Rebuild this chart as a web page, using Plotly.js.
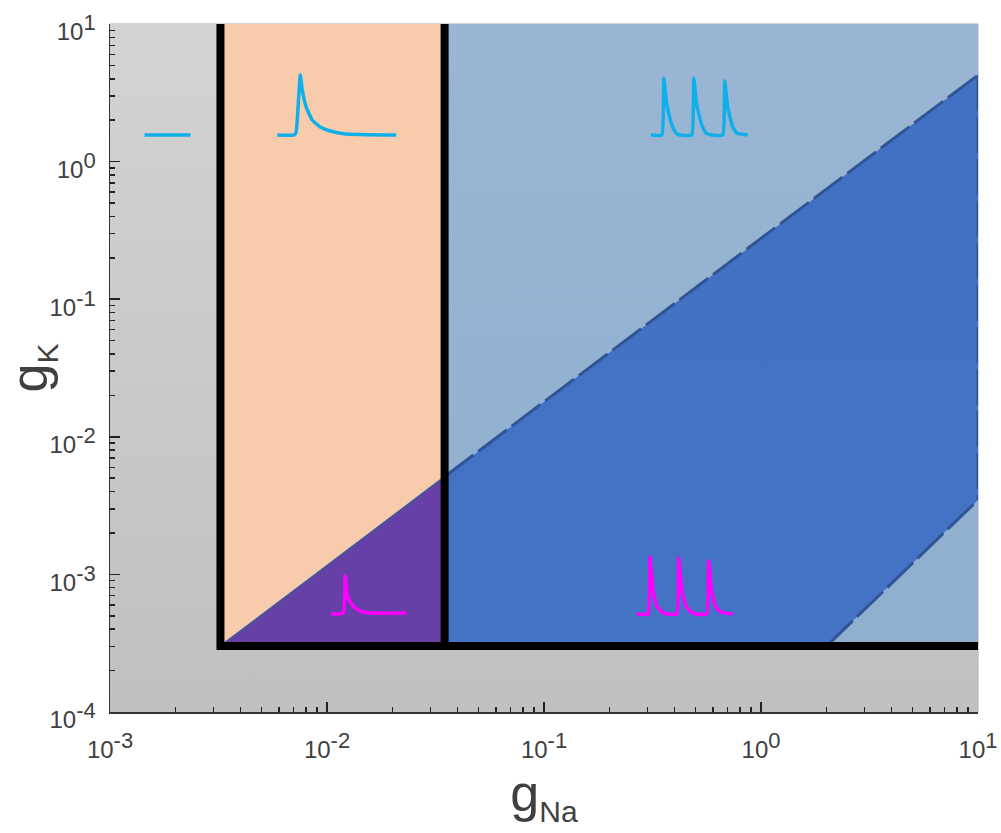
<!DOCTYPE html>
<html><head><meta charset="utf-8">
<script src="https://cdn.plot.ly/plotly-3.0.1.min.js"></script>
<style>html,body{margin:0;padding:0;background:#fff}</style></head>
<body><div id="chart" style="width:1001px;height:833px"></div>
<script>
// all coordinates below are log10(gNa), log10(gK)
const xDecades = [-3,-2,-1,0,1];
const yDecades = [-4,-3,-2,-1,0,1];
const gNaLow = -2.491, gNaHigh = -1.458, gKLow = -3.52;
const xLo = -3, xHi = 1, yLo = -4, yHi = 1;

const upperEdgeX = [-2.491,-1.458,1];
const upperEdgeY = [-3.52,-2.29,0.629];
const lowerEdgeX = [0.303,1];
const lowerEdgeY = [-3.52,-2.459];

const restX = [-2.841,-2.629];
const restY = [0.193,0.193];
const cyanOneX = [-2.229,-2.151,-2.142,-2.123,-2.114,-2.096,-2.068,-2.031,-1.985,-1.916,-1.681];
const cyanOneY = [0.193,0.193,0.215,0.629,0.520,0.397,0.302,0.251,0.222,0.201,0.193];
const cyanManyX = [-0.507,-0.457,-0.448,-0.434,-0.411,-0.392,-0.374,-0.319,-0.310,-0.296,-0.273,-0.254,-0.227,-0.176,-0.167,-0.153,-0.130,-0.112,-0.061];
const cyanManyY = [0.193,0.193,0.608,0.411,0.266,0.208,0.193,0.193,0.608,0.411,0.266,0.208,0.193,0.193,0.586,0.390,0.251,0.208,0.193];
const magOneX = [-1.980,-1.925,-1.916,-1.907,-1.893,-1.870,-1.838,-1.778,-1.635];
const magOneY = [-3.288,-3.281,-3.012,-3.150,-3.201,-3.244,-3.273,-3.281,-3.281];
const magManyX = [-0.572,-0.521,-0.512,-0.498,-0.480,-0.457,-0.429,-0.388,-0.379,-0.365,-0.346,-0.323,-0.296,-0.250,-0.241,-0.227,-0.208,-0.185,-0.130];
const magManyY = [-3.288,-3.288,-2.874,-3.113,-3.230,-3.273,-3.288,-3.288,-2.881,-3.113,-3.230,-3.273,-3.288,-3.288,-2.903,-3.128,-3.237,-3.273,-3.288];

const p = a => a.map(v => Math.pow(10, v));
const grad = (top, bottom) => ({type:'vertical', colorscale:[[0,bottom],[1,top]]});
function region(xs, ys, top, bottom){
  return {x:p(xs), y:p(ys), mode:'lines', line:{width:0}, fill:'toself',
          fillgradient:grad(top,bottom), hoverinfo:'skip', showlegend:false};
}
function stroke(xs, ys, color, width, dash, smooth){
  return {x:p(xs), y:p(ys), mode:'lines',
          line:smooth ? {color, width, shape:'spline', smoothing:0.35} : {color, width, dash:dash||'solid', shape:'linear'},
          hoverinfo:'skip', showlegend:false};
}
const rightEdge = stroke([xHi,xHi],[upperEdgeY[2],lowerEdgeY[1]],'#2f5597',3,'36px,6px');
rightEdge.cliponaxis = false;
const traces = [
  region([xLo,xHi,xHi,xLo],[yLo,yLo,yHi,yHi],'#d3d3d3','#c0c0c0'),
  region([gNaLow,gNaHigh,gNaHigh,gNaLow],[gKLow,gKLow,yHi,yHi],'#f7cbac','#f7cbac'),
  region([gNaHigh,xHi,xHi,gNaHigh],[gKLow,gKLow,yHi,yHi],'#9ab6d4','#8fafce'),
  region([upperEdgeX[1],upperEdgeX[2],lowerEdgeX[1],lowerEdgeX[0],upperEdgeX[1]],
         [upperEdgeY[1],upperEdgeY[2],lowerEdgeY[1],lowerEdgeY[0],gKLow],'#4271c3','#4472c4'),
  region([gNaLow,gNaHigh,gNaHigh],[gKLow,upperEdgeY[1],gKLow],'#6640a6','#6640a6'),
  stroke(upperEdgeX.slice(0,2),upperEdgeY.slice(0,2),'#3a5c9a',1.5),
  stroke(upperEdgeX.slice(1),upperEdgeY.slice(1),'#2f5597',3,'36px,6px'),
  rightEdge,
  stroke(lowerEdgeX,lowerEdgeY,'#2f5597',3,'36px,6px'),
  stroke([gNaLow,gNaLow,xHi],[yHi,gKLow,gKLow],'#000000',8),
  stroke([gNaHigh,gNaHigh],[yHi,gKLow],'#000000',8),
  stroke(restX,restY,'#0fb0ea',3.5),
  stroke(cyanOneX,cyanOneY,'#0fb0ea',3.5,null,true),
  stroke(cyanManyX,cyanManyY,'#0fb0ea',3.5,null,true),
  stroke(magOneX,magOneY,'#ff00ff',3.5,null,true),
  stroke(magManyX,magManyY,'#ff00ff',3.5,null,true)
];
const sup = d => '10<sup><span style="font-size:22px">'+d+'</span></sup>';
const minorVals = ds => { const out=[]; ds.slice(0,-1).forEach(d=>{ for(let m=2;m<10;m++) out.push(m*Math.pow(10,d)); }); return out; };
const fam = '"Liberation Sans", Arial, sans-serif';
const axisBase = {
  type:'log', showgrid:false, zeroline:false, showline:true, linecolor:'#333', linewidth:1.5,
  ticks:'inside', ticklen:10, tickwidth:1.5, tickcolor:'#222',
  tickfont:{family:fam, size:24, color:'#404040'},
  tickmode:'array', ticklabeloverflow:'allow'
};
const layout = {
  width:1001, height:833, paper_bgcolor:'#fff', plot_bgcolor:'#c8c8c8',
  margin:{l:109.5,r:22.5,t:24,b:121}, showlegend:false,
  xaxis:Object.assign({},axisBase,{range:[xLo,xHi], tickvals:p(xDecades), ticktext:xDecades.map(sup),
    minor:{tickmode:'array', tickvals:minorVals(xDecades), ticks:'inside', ticklen:5, tickwidth:1.5, tickcolor:'#222'},
    ticklabelstandoff:16,
    title:{text:'g<sub><span style="font-size:30px">Na</span></sub>', standoff:12, font:{family:fam, size:52, color:'#404040'}}}),
  yaxis:Object.assign({},axisBase,{range:[yLo,yHi], tickvals:p(yDecades), ticktext:yDecades.map(sup),
    minor:{tickmode:'array', tickvals:minorVals(yDecades), ticks:'inside', ticklen:5, tickwidth:1.5, tickcolor:'#222'},
    ticklabelstandoff:8, ticklabelshift:8,
    title:{text:'g<sub><span style="font-size:30px">K</span></sub>', standoff:10, font:{family:fam, size:52, color:'#404040'}}}),
  shapes:[{type:'rect',xref:'paper',yref:'paper',x0:0,x1:1,y0:0,y1:1,line:{color:'#a8a8a8',width:1},layer:'below'}]
};
Plotly.newPlot('chart',traces,layout,{displayModeBar:false,staticPlot:true});
</script></body></html>
